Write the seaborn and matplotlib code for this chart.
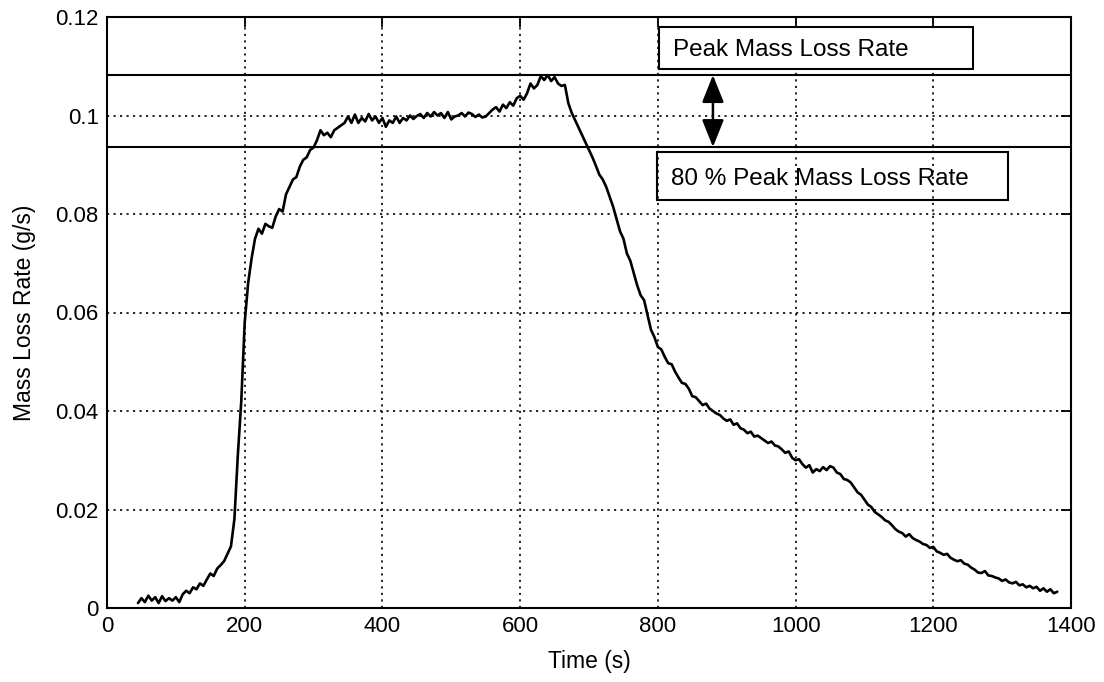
import numpy as np
import pandas as pd
import matplotlib
matplotlib.use("Agg")
import matplotlib.pyplot as plt
from matplotlib.patches import Rectangle
from matplotlib.ticker import FuncFormatter
import seaborn as sns

# ---- data ----
time_s = list(range(45, 1385, 5))
mass_loss_rate = [
    0.001, 0.002, 0.0012, 0.0025, 0.0015, 0.0022, 0.001, 0.0024, 0.0014, 0.002,
    0.0015, 0.0022, 0.0012, 0.0028, 0.0035, 0.003, 0.0042, 0.0038, 0.005, 0.0045,
    0.0058, 0.007, 0.0065, 0.008, 0.0087, 0.0095, 0.011, 0.0125, 0.018, 0.031,
    0.042, 0.058, 0.066, 0.071, 0.075, 0.077, 0.076, 0.078, 0.0775, 0.0772,
    0.0795, 0.081, 0.0805, 0.084, 0.0855, 0.087, 0.0875, 0.0896, 0.091, 0.0915,
    0.093, 0.0935, 0.095, 0.097, 0.096, 0.0965, 0.0956, 0.097, 0.0975, 0.098,
    0.0985, 0.0998, 0.0985, 0.1002, 0.0985, 0.0995, 0.0988, 0.1003, 0.099, 0.0998,
    0.0985, 0.0995, 0.0977, 0.099, 0.0985, 0.0998, 0.0985, 0.0995, 0.099, 0.100,
    0.0993, 0.0999, 0.1003, 0.0995, 0.1005, 0.0998, 0.1007, 0.100, 0.1005, 0.0995,
    0.1007, 0.0992, 0.0998, 0.100, 0.1005, 0.0998, 0.1006, 0.1003, 0.0997, 0.1002,
    0.0996, 0.0998, 0.1005, 0.1012, 0.1017, 0.1008, 0.1022, 0.1015, 0.1027, 0.102,
    0.1035, 0.104, 0.1032, 0.1045, 0.1065, 0.1055, 0.1062, 0.108, 0.1072, 0.1082,
    0.107, 0.1078, 0.1065, 0.106, 0.1062, 0.1025, 0.1005, 0.099, 0.0975, 0.096,
    0.0945, 0.093, 0.0915, 0.0898, 0.088, 0.087, 0.0855, 0.0835, 0.0815, 0.079,
    0.0765, 0.075, 0.072, 0.0705, 0.068, 0.0655, 0.0635, 0.0625, 0.0595, 0.0565,
    0.055, 0.053, 0.0525, 0.051, 0.0497, 0.0495, 0.048, 0.0468, 0.0457, 0.0455,
    0.0445, 0.043, 0.0428, 0.042, 0.0412, 0.0415, 0.0405, 0.040, 0.0395, 0.0392,
    0.0385, 0.038, 0.0383, 0.0372, 0.0375, 0.0365, 0.0362, 0.0355, 0.0358, 0.0348,
    0.035, 0.0345, 0.034, 0.0335, 0.0338, 0.033, 0.0328, 0.0322, 0.0315, 0.0318,
    0.0305, 0.030, 0.0302, 0.0292, 0.0285, 0.029, 0.0275, 0.0282, 0.0278, 0.0286,
    0.028, 0.0288, 0.0285, 0.0275, 0.0272, 0.0262, 0.026, 0.0255, 0.0245, 0.0235,
    0.023, 0.022, 0.021, 0.0205, 0.0195, 0.019, 0.0185, 0.0178, 0.0175, 0.0168,
    0.016, 0.0155, 0.0152, 0.0145, 0.015, 0.0142, 0.0138, 0.0135, 0.013, 0.0128,
    0.0122, 0.0124, 0.0115, 0.0112, 0.0108, 0.011, 0.0102, 0.0098, 0.0095, 0.0097,
    0.009, 0.0088, 0.0082, 0.0078, 0.0072, 0.0071, 0.0075, 0.0066, 0.0065, 0.0062,
    0.006, 0.0055, 0.0058, 0.0052, 0.005, 0.0053, 0.0046, 0.0048, 0.0042, 0.0045,
    0.004, 0.0043, 0.0035, 0.004, 0.0033, 0.0038, 0.003, 0.0033,
]
peak_rate = 0.1082
eighty_pct_rate = 0.0936
arrow_time = 880
label_peak = "Peak Mass Loss Rate"
label_80 = "80 % Peak Mass Loss Rate"
x_ticks = [0, 200, 400, 600, 800, 1000, 1200, 1400]
y_ticks = [0, 0.02, 0.04, 0.06, 0.08, 0.1, 0.12]

df = pd.DataFrame({"Time (s)": time_s, "Mass Loss Rate (g/s)": mass_loss_rate})

sns.set_theme(style="white")
plt.rcParams["font.family"] = ["Liberation Sans", "DejaVu Sans"]
plt.rcParams["axes.edgecolor"] = "black"
plt.rcParams["axes.linewidth"] = 1.5

fig = plt.figure(figsize=(11.04, 6.82), dpi=100)
ax = fig.add_axes([107 / 1104, 1 - 608 / 682, (1071 - 107) / 1104, (608 - 17) / 682])

sns.lineplot(data=df, x="Time (s)", y="Mass Loss Rate (g/s)", ax=ax,
             color="black", linewidth=1.9, estimator=None, zorder=3)

ax.set_xlim(0, 1400)
ax.set_ylim(0, 0.12)
ax.set_xticks(x_ticks)
ax.set_yticks(y_ticks)
ax.yaxis.set_major_formatter(FuncFormatter(lambda v, p: "%g" % v))
ax.grid(True, color="black", linestyle=(0, (1.3, 2.6)), linewidth=1.2)
ax.tick_params(direction="in", length=7, width=1.3, top=True, right=True,
               labelsize=16, colors="black", pad=6)
ax.set_xlabel("Time (s)", fontsize=16.5, color="black", labelpad=9)
ax.set_ylabel("Mass Loss Rate (g/s)", fontsize=16.5, color="black", labelpad=14)
for s in ax.spines.values():
    s.set_visible(True)
    s.set_color("black")

# reference lines
ax.axhline(peak_rate, color="black", linewidth=1.5, zorder=2)
ax.axhline(eighty_pct_rate, color="black", linewidth=1.5, zorder=2)

# double arrow
ax.annotate("", xy=(arrow_time, peak_rate), xytext=(arrow_time, eighty_pct_rate),
            arrowprops=dict(arrowstyle="<|-|>,head_length=0.7,head_width=0.28",
                            color="black", lw=1.8, shrinkA=0, shrinkB=0,
                            mutation_scale=24), zorder=4)

# text boxes
ax.add_patch(Rectangle((801.6, 0.10944), 1257.6 - 801.6, 0.11797 - 0.10944,
                       facecolor="white", edgecolor="black", linewidth=1.5, zorder=4))
ax.text(822, 0.1132, label_peak, fontsize=17.5, va="center", ha="left", color="black", zorder=5)
ax.add_patch(Rectangle((798.7, 0.08284), 1308.5 - 798.7, 0.09259 - 0.08284,
                       facecolor="none", edgecolor="black", linewidth=1.5, zorder=4))
ax.text(819, 0.0872, label_80, fontsize=17.5, va="center", ha="left", color="black", zorder=5)

fig.savefig("out.png", dpi=100, facecolor="white")
